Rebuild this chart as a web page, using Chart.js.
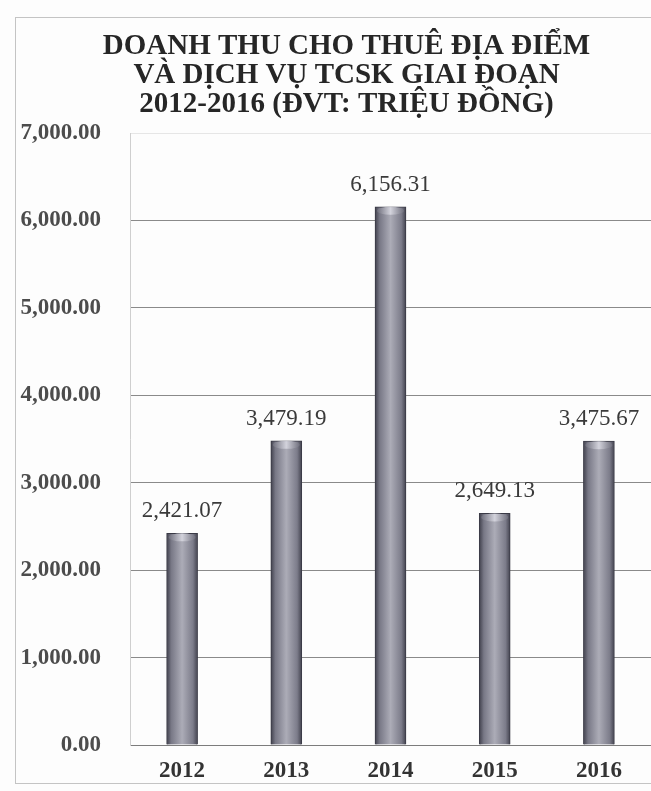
<!DOCTYPE html>
<html>
<head>
<meta charset="utf-8">
<script src="https://cdn.jsdelivr.net/npm/chart.js@4/dist/chart.umd.min.js"></script>
<style>
  html, body { margin: 0; padding: 0; background: #fdfdfd; }
  #wrap { width: 651px; height: 791px; overflow: hidden; }
</style>
</head>
<body>
<div id="wrap"><canvas id="revChart" width="651" height="791"></canvas></div>
<script>
const years = ['2012', '2013', '2014', '2015', '2016'];
const revenue = [2421.07, 3479.19, 6156.31, 2649.13, 3475.67];
const titleLines = ['DOANH THU CHO THUÊ ĐỊA ĐIỂM', 'VÀ DỊCH VỤ TCSK GIAI ĐOẠN', '2012-2016 (ĐVT: TRIỆU ĐỒNG)'];
const yMin = 0;
const yMax = 7000;
const yStep = 1000;

const SERIF = "'Liberation Serif', 'DejaVu Serif', serif";
const BAR_W = 31;

const fmt = v => v.toLocaleString('en-US', { minimumFractionDigits: 2, maximumFractionDigits: 2 });

// cylinder-ish shading across each bar
function barFill(c) {
    const xs = c.chart.scales.x;
    if (!xs || c.dataIndex === undefined) return '#85858f';
    const cx = xs.getPixelForValue(c.dataIndex);
    if (!isFinite(cx)) return '#85858f';
    const g = c.chart.ctx.createLinearGradient(cx - BAR_W / 2, 0, cx + BAR_W / 2, 0);
    g.addColorStop(0, '#40404c');
    g.addColorStop(0.15, '#787886');
    g.addColorStop(0.5, '#acacb7');
    g.addColorStop(0.85, '#7c7c8a');
    g.addColorStop(1, '#42424e');
    return g;
}

const framePlugin = {
    id: 'frame',
    beforeDraw(chart) {
        const ctx = chart.ctx;
        ctx.save();
        ctx.fillStyle = '#fdfdfd';
        ctx.fillRect(0, 0, chart.width, chart.height);
        ctx.strokeStyle = '#c4c4c4';
        ctx.lineWidth = 1;
        ctx.strokeRect(15.5, 17.5, chart.width, 766);
        ctx.restore();
    },
    // title sits centred over the plot rather than the whole box
    afterLayout(chart) {
        chart.titleBlock.left += 32;
        chart.titleBlock.right -= 8;
    }
};

// light top cap plus the value over every bar
const barDecor = {
    id: 'barDecor',
    afterDatasetsDraw(chart) {
        const ctx = chart.ctx;
        const meta = chart.getDatasetMeta(0);
        ctx.save();
        meta.data.forEach((bar, i) => {
            const hw = bar.width / 2;
            const cap = ctx.createLinearGradient(bar.x - hw, 0, bar.x + hw, 0);
            cap.addColorStop(0, 'rgba(96,96,110,0.9)');
            cap.addColorStop(0.5, 'rgba(215,215,224,0.9)');
            cap.addColorStop(1, 'rgba(96,96,110,0.9)');
            ctx.fillStyle = cap;
            ctx.beginPath();
            ctx.ellipse(bar.x, bar.y + 4, hw - 2, 4, 0, 0, Math.PI * 2);
            ctx.fill();

            ctx.fillStyle = '#3a3a3a';
            ctx.font = "23px " + SERIF;
            ctx.textAlign = 'center';
            ctx.textBaseline = 'middle';
            ctx.fillText(fmt(revenue[i]), bar.x, bar.y - 22);
        });
        ctx.restore();
    }
};

new Chart(document.getElementById('revChart'), {
    type: 'bar',
    data: {
        labels: years,
        datasets: [{
            data: revenue,
            backgroundColor: barFill,
            borderColor: '#3a3a46',
            borderWidth: 1,
            barThickness: BAR_W
        }]
    },
    options: {
        responsive: false,
        animation: false,
        // the plot runs a little past the right edge of the frame
        layout: { padding: { left: 10, right: -8, top: 22, bottom: 8 } },
        plugins: {
            legend: { display: false },
            tooltip: { enabled: false },
            title: {
                display: true,
                text: titleLines,
                color: '#262626',
                font: { family: SERIF, size: 29, weight: 'bold', lineHeight: 1.0 },
                padding: { top: 10, bottom: 14 }
            }
        },
        scales: {
            x: {
                grid: { display: false, drawTicks: false },
                border: { display: true, color: '#7c7c7c' },
                ticks: {
                    color: '#333',
                    font: { family: SERIF, size: 23, weight: 'bold' },
                    padding: 12
                },
                afterFit(scale) { scale.height = 38; }
            },
            y: {
                min: yMin,
                max: yMax,
                grid: {
                    drawTicks: false,
                    color: c => (c.tick && c.tick.value === yMax) ? '#e6e6e6' : '#8a8a8a'
                },
                border: { display: true, color: '#cfcfcf' },
                ticks: {
                    stepSize: yStep,
                    color: '#4c4c4c',
                    font: { family: SERIF, size: 23, weight: 'bold' },
                    padding: 29,
                    callback: v => fmt(v)
                },
                afterFit(scale) { scale.width = 120; }
            }
        }
    },
    plugins: [framePlugin, barDecor]
});
</script>
</body>
</html>
